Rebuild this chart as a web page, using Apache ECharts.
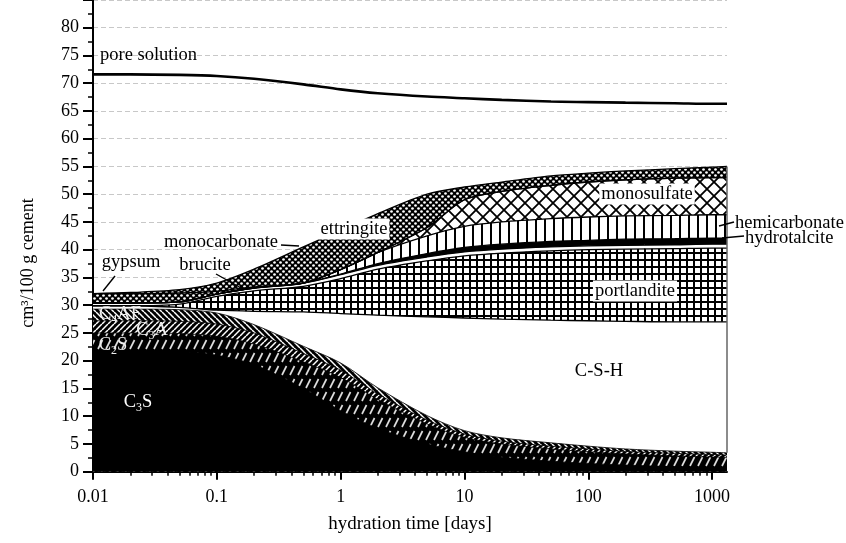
<!DOCTYPE html>
<html><head><meta charset="utf-8">
<script src="https://cdn.jsdelivr.net/npm/echarts@6/dist/echarts.min.js"></script>
<style>html,body{margin:0;padding:0;background:#fff}#c{width:846px;height:543px}</style>
</head><body><div id="c"></div>
<script>
// ---------------- data ----------------
const days = [0.01, 0.02, 0.05, 0.1, 0.2, 0.5, 1, 2, 5, 10, 20, 50, 100, 200, 500, 1000, 1320];
// upper boundary of each stacked phase (cm3 / 100 g cement)
const c3sTop   = [21.8, 21.8, 21.6, 21.0, 19.3, 15.0, 11.0, 7.8, 5.0, 3.6, 2.6, 1.9, 1.5, 1.2, 0.9, 0.75, 0.7];
const c2sTop   = [25.0, 25.0, 24.9, 24.4, 23.0, 19.8, 17.0, 13.0, 8.6, 6.2, 5.0, 4.1, 3.6, 3.2, 2.85, 2.65, 2.6];
const c3aTop   = [27.2, 27.2, 27.1, 26.6, 25.0, 21.3, 18.3, 14.0, 9.3, 6.8, 5.5, 4.6, 4.1, 3.65, 3.3, 3.1, 3.0];
const c4afTop  = [29.3, 29.3, 29.2, 28.6, 26.5, 22.6, 19.6, 15.1, 10.1, 7.4, 6.1, 5.2, 4.6, 4.1, 3.7, 3.5, 3.4];
const cshTop   = [29.9, 29.9, 29.6, 29.1, 28.9, 28.8, 28.5, 28.2, 27.9, 27.7, 27.5, 27.3, 27.2, 27.1, 27.0, 27.0, 27.0];
const portlTop = [29.9, 29.9, 30.2, 31.6, 32.6, 33.4, 34.8, 36.5, 38.0, 38.9, 39.4, 39.8, 40.0, 40.1, 40.2, 40.3, 40.3];
const brucTop  = [30.4, 30.4, 30.6, 32.0, 33.1, 34.0, 35.5, 37.2, 38.7, 39.6, 40.1, 40.5, 40.7, 40.8, 40.9, 41.0, 41.0];
const htTop    = [30.4, 30.4, 30.6, 32.0, 33.1, 34.0, 35.6, 37.5, 39.3, 40.4, 41.0, 41.5, 41.7, 41.9, 42.0, 42.1, 42.1];
const hemiTop  = [30.4, 30.4, 30.6, 32.0, 33.1, 34.0, 36.4, 39.5, 42.5, 44.2, 45.0, 45.6, 45.9, 46.1, 46.2, 46.3, 46.3];
const monoTop  = [30.4, 30.4, 30.6, 32.0, 33.1, 34.0, 36.4, 39.5, 44.0, 49.0, 50.5, 51.6, 52.2, 52.6, 52.9, 53.0, 53.0];
const gypTop   = [32.1, 32.1, 32.2, 32.5, 33.3, 34.0, 36.4, 39.5, 44.0, 49.0, 50.5, 51.6, 52.2, 52.6, 52.9, 53.0, 53.0];
const ettTop   = [32.1, 32.3, 32.8, 34.0, 36.5, 40.5, 43.5, 46.5, 50.0, 51.3, 52.2, 53.3, 53.8, 54.2, 54.6, 54.9, 55.0];
const poreTop  = [71.6, 71.6, 71.5, 71.3, 70.8, 69.8, 68.9, 68.2, 67.6, 67.3, 67.0, 66.7, 66.6, 66.5, 66.4, 66.3, 66.3];

const xMajorTicks = [0.01, 0.1, 1, 10, 100, 1000];
const xMinorTicks = [0.02,0.03,0.04,0.05,0.06,0.07,0.08,0.09, 0.2,0.3,0.4,0.5,0.6,0.7,0.8,0.9,
                     2,3,4,5,6,7,8,9, 20,30,40,50,60,70,80,90, 200,300,400,500,600,700,800,900];
const yTickLabels = [0,5,10,15,20,25,30,35,40,45,50,55,60,65,70,75,80];

// ---------------- hatch patterns ----------------
function tile(w, h, fn) { const c = document.createElement('canvas'); c.width = w; c.height = h; fn(c.getContext('2d'), w, h); return c; }
const patChecker = tile(6, 6, g => { g.fillStyle = '#000'; g.fillRect(0,0,6,6); g.fillStyle = '#fff';
  for (const [cx, cy] of [[1.5,1.5],[4.5,4.5]]) { g.beginPath(); g.arc(cx, cy, 1.35, 0, Math.PI*2); g.fill(); } });
const patDiamond = tile(14, 14, g => { g.fillStyle = '#fff'; g.fillRect(0,0,14,14); g.strokeStyle = '#000'; g.lineWidth = 1.8;
  for (const d of [-14, 0, 14]) { g.beginPath(); g.moveTo(d,0); g.lineTo(d+14,14); g.moveTo(d+14,0); g.lineTo(d,14); g.stroke(); } });
const patVert = tile(9, 9, g => { g.fillStyle = '#fff'; g.fillRect(0,0,9,9); g.fillStyle = '#000'; g.fillRect(4,0,2,9); });
const patGrid = tile(7, 7, g => { g.fillStyle = '#fff'; g.fillRect(0,0,7,7); g.fillStyle = '#000'; g.fillRect(0,0,7,2); g.fillRect(0,0,2,7); });
const patC2S = tile(8, 13, g => { g.fillStyle = '#000'; g.fillRect(0,0,8,13); g.strokeStyle = '#ddd'; g.lineWidth = 1.7; g.beginPath(); g.moveTo(2,11); g.lineTo(6.5,2); g.stroke(); });
const patSlash = tile(6, 6, g => { g.fillStyle = '#000'; g.fillRect(0,0,6,6); g.strokeStyle = '#fff'; g.lineWidth = 1.5;
  for (const d of [-6, 0, 6]) { g.beginPath(); g.moveTo(d,6); g.lineTo(d+6,0); g.stroke(); } });
const patBack = tile(6, 6, g => { g.fillStyle = '#000'; g.fillRect(0,0,6,6); g.strokeStyle = '#fff'; g.lineWidth = 1.5;
  for (const d of [-6, 0, 6]) { g.beginPath(); g.moveTo(d,0); g.lineTo(d+6,6); g.stroke(); } });
const pat = c => ({ image: c, repeat: 'repeat' });

const SERIF = '"Liberation Serif", "DejaVu Serif", serif';

function layer(name, tops, fill, lw) {
  return { type: 'line', name, data: days.map((d, i) => [d, tops[i]]), smooth: 0.3, symbol: 'none', showSymbol: false, silent: true,
    lineStyle: { color: '#000', width: lw == null ? 1.3 : lw }, areaStyle: { color: fill, opacity: 1, origin: 'start' } };
}

const last = days.length - 1;
const series = [
  layer('ettringite', ettTop, pat(patChecker)),
  layer('gypsum', gypTop, pat(patChecker)),
  layer('monosulfate', monoTop, pat(patDiamond)),
  layer('hemicarbonate', hemiTop, pat(patVert)),
  layer('hydrotalcite', htTop, '#000'),
  layer('brucite', brucTop, '#fff'),
  layer('portlandite', portlTop, pat(patGrid)),
  layer('C-S-H', cshTop, '#fff'),
  layer('C4AF', c4afTop, pat(patBack), 0.8),
  layer('C3A', c3aTop, pat(patSlash), 0.8),
  layer('C2S', c2sTop, pat(patC2S), 0.8),
  layer('C3S', c3sTop, '#000', 0.8),
  { type: 'line', name: 'right edge', data: [[days[last], c4afTop[last]], [days[last], ettTop[last]]], symbol: 'none', silent: true,
    lineStyle: { color: '#666', width: 1.5 } },
  { type: 'line', name: 'pore solution', data: days.map((d, i) => [d, poreTop[i]]), smooth: 0.3, symbol: 'none', silent: true,
    lineStyle: { color: '#000', width: 2.6 } }
];

// ---------------- labels ----------------
const LF = '18.5px ' + SERIF;
const meas = document.createElement('canvas').getContext('2d');
function txt(text, x, y, o) {
  o = o || {};
  return { type: 'text', x, y, z: 100, silent: true, style: Object.assign({ text, font: LF, fill: '#000',
    align: o.align || 'center', textAlign: o.align || 'center', verticalAlign: 'middle', textVerticalAlign: 'middle' }, o.style || {}) };
}
function chem(parts, cx, cy, color) {
  const big = LF, small = '12px ' + SERIF;
  let w = 0; const ws = parts.map((p, i) => { meas.font = i % 2 ? small : big; const m = meas.measureText(p).width; w += m; return m; });
  let x = cx - w / 2; const out = [];
  parts.forEach((p, i) => {
    out.push({ type: 'text', x, y: i % 2 ? cy + 6 : cy, z: 100, silent: true,
      style: { text: p, font: i % 2 ? small : big, fill: color, align: 'left', textAlign: 'left', verticalAlign: 'middle', textVerticalAlign: 'middle' } });
    x += ws[i];
  });
  return out;
}
function seg(x1, y1, x2, y2) { return { type: 'line', z: 100, silent: true, shape: { x1, y1, x2, y2 }, style: { stroke: '#000', lineWidth: 1.4 } }; }

const graphics = [
  txt('pore solution', 100, 55, { align: 'left' }),
  txt('gypsum', 131, 262), seg(115, 276, 103, 291),
  txt('monocarbonate', 221, 242), seg(281, 245, 299, 246),
  txt('brucite', 205, 265), seg(216, 274, 243, 289),
  txt('ettringite', 354, 229, { style: { backgroundColor: '#fff', padding: [1, 2] } }),
  txt('monosulfate', 647, 194, { style: { backgroundColor: '#fff', padding: [1, 2] } }),
  txt('hemicarbonate', 735, 223, { align: 'left' }), seg(719, 226, 734, 222),
  txt('hydrotalcite', 745, 238, { align: 'left' }), seg(722, 238, 744, 236),
  txt('portlandite', 635, 291, { style: { backgroundColor: '#fff', padding: [1, 2] } }),
  txt('C-S-H', 599, 371),
  ...chem(['C', '3', 'S'], 138, 402, '#fff'),
  ...chem(['C', '2', 'S'], 113, 345, '#eee'),
  ...chem(['C', '3', 'A'], 152, 330, '#eee'),
  ...chem(['C', '4', 'AF'], 120, 314, '#eee'),
  { type: 'text', x: 28, y: 263, rotation: Math.PI / 2, z: 100, silent: true,
    style: { text: 'cm³/100 g cement', font: '18px ' + SERIF, fill: '#000', align: 'center', textAlign: 'center', verticalAlign: 'middle', textVerticalAlign: 'middle' } }
];

const axisFont = { fontFamily: SERIF, fontSize: 18, color: '#000' };
const option = {
  animation: false,
  backgroundColor: '#fff',
  grid: { left: 93, right: 119, top: -5.4, bottom: 71.3 },
  xAxis: [
    { type: 'log', logBase: 10, min: 0.01, max: days[last], position: 'bottom',
      axisLine: { show: true, lineStyle: { color: '#000', width: 2 } },
      axisTick: { show: true, customValues: xMajorTicks, length: 8, lineStyle: { color: '#000', width: 2 } },
      axisLabel: Object.assign({ customValues: xMajorTicks, margin: 17, formatter: v => String(v) }, axisFont),
      splitLine: { show: false }, minorTick: { show: false },
      name: 'hydration time [days]', nameLocation: 'middle', nameGap: 43,
      nameTextStyle: { fontFamily: SERIF, fontSize: 19, color: '#000' } },
    { type: 'log', logBase: 10, min: 0.01, max: days[last], position: 'bottom',
      axisLine: { show: false }, axisLabel: { show: false }, splitLine: { show: false },
      axisTick: { show: true, customValues: xMinorTicks, length: 4, lineStyle: { color: '#000', width: 1.5 } } }
  ],
  yAxis: { type: 'value', min: 0, max: 85, interval: 5,
    axisLine: { show: true, lineStyle: { color: '#000', width: 2 } },
    axisTick: { show: true, length: 10, lineStyle: { color: '#000', width: 2 } },
    minorTick: { show: true, splitNumber: 2, length: 5, lineStyle: { color: '#000', width: 1.5 } },
    axisLabel: Object.assign({ margin: 14, formatter: v => (yTickLabels.indexOf(v) >= 0 ? String(v) : '') }, axisFont),
    splitLine: { show: true, lineStyle: { color: '#c8c8c8', width: 1, type: [5, 3] } } },
  series,
  graphic: graphics
};
const chart = echarts.init(document.getElementById('c'), null, { renderer: 'canvas' });
chart.setOption(option);
</script></body></html>
